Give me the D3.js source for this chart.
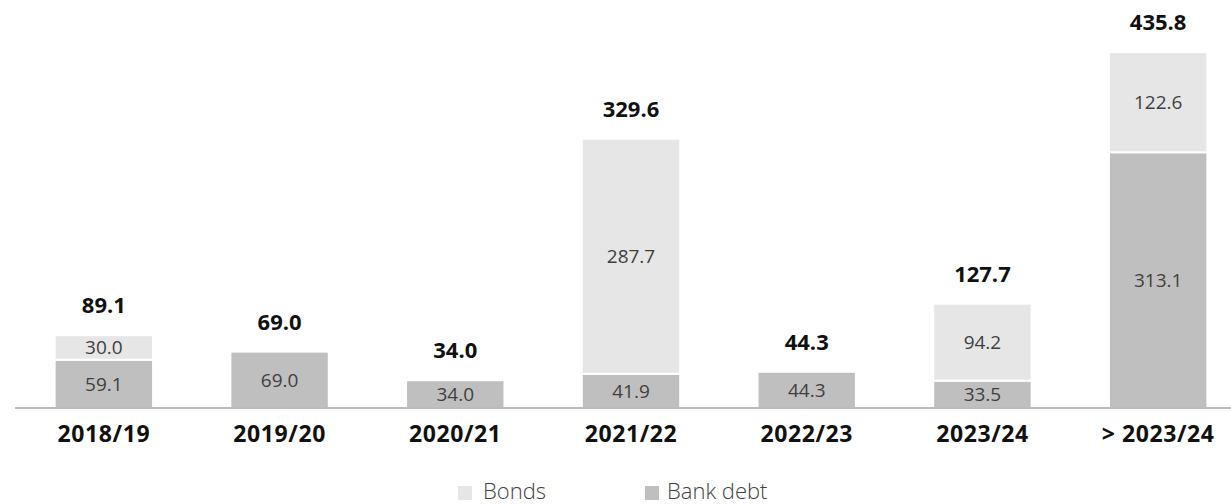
<!DOCTYPE html>
<html>
<head>
<meta charset="utf-8">
<script src="https://cdn.jsdelivr.net/npm/d3@7"></script>
<style>
  body { margin: 0; background: #fff; }
  svg { display: block; font-family: "Open Sans", "Noto Sans", sans-serif; }
</style>
</head>
<body>
<div id="chart"></div>
<script>
// Data
var categories = ["2018/19", "2019/20", "2020/21", "2021/22", "2022/23", "2023/24", "> 2023/24"];
var bankDebt = [59.1, 69.0, 34.0, 41.9, 44.3, 33.5, 313.1];
var bonds = [30.0, 0, 0, 287.7, 0, 94.2, 122.6];
var totals = [89.1, 69.0, 34.0, 329.6, 44.3, 127.7, 435.8];

var svgWidth = 1231;
var svgHeight = 504;
var baseY = 408;

var svg = d3.select("#chart")
  .append("svg")
  .attr("width", svgWidth)
  .attr("height", svgHeight);

var x = d3.scaleBand()
  .domain(categories)
  .range([16, 1246])
  .paddingInner(0.44)
  .paddingOuter(0.22);

var y = d3.scaleLinear()
  .domain([0, 435.8])
  .range([baseY, 52]);

var colors = { bonds: "#e6e6e6", bank: "#bfbfbf" };

var rows = categories.map(function (c, i) {
  return { cat: c, bank: bankDebt[i], bonds: bonds[i], total: totals[i] };
});

var stack = d3.stack().keys(["bank", "bonds"])(rows);

var groups = svg.selectAll("g.series")
  .data(stack)
  .enter()
  .append("g")
  .attr("class", "series")
  .attr("fill", d => colors[d.key]);

groups.selectAll("rect")
  .data(d => d.filter(p => p[1] > p[0]))
  .enter()
  .append("rect")
  .attr("x", d => x(d.data.cat))
  .attr("width", x.bandwidth())
  .attr("y", d => y(d[1]))
  .attr("height", d => y(d[0]) - y(d[1]))
  .attr("stroke", "#fff")
  .attr("stroke-width", 2);

// segment labels
stack.forEach(function (s) {
  svg.append("g").selectAll("text")
    .data(s.filter(p => p[1] > p[0]))
    .enter()
    .append("text")
    .attr("x", d => x(d.data.cat) + x.bandwidth() / 2)
    .attr("y", d => (y(d[0]) + y(d[1])) / 2)
    .attr("dy", "0.36em")
    .attr("text-anchor", "middle")
    .attr("font-size", "19px")
    .attr("fill", "#3f3f3f")
    .text(d => (d[1] - d[0]).toFixed(1));
});

// totals
svg.append("g").selectAll("text")
  .data(rows)
  .enter()
  .append("text")
  .attr("x", d => x(d.cat) + x.bandwidth() / 2)
  .attr("y", d => y(d.total) - 22)
  .attr("text-anchor", "middle")
  .attr("font-size", "22px")
  .attr("font-weight", "bold")
  .attr("fill", "#111")
  .text(d => d.total.toFixed(1));

// axis
var xAxis = svg.append("g")
  .attr("transform", `translate(0, ${baseY})`)
  .call(d3.axisBottom(x).tickSize(0).tickPadding(18));

xAxis.select(".domain").remove();
xAxis.append("line")
  .attr("x1", 15).attr("x2", 1231)
  .attr("stroke", "#a6a6a6")
  .attr("stroke-width", 1.3);

xAxis.selectAll("text")
  .attr("font-family", "'Open Sans', sans-serif")
  .attr("font-size", "23px")
  .attr("font-weight", "bold")
  .attr("letter-spacing", "0.6px")
  .attr("fill", "#111");

// legend
var legendItems = [
  { name: "Bonds", color: colors.bonds, x: 458, tx: 483 },
  { name: "Bank debt", color: colors.bank, x: 645, tx: 667 }
];

var legend = svg.append("g").selectAll("g")
  .data(legendItems)
  .enter()
  .append("g");

legend.append("rect")
  .attr("x", d => d.x)
  .attr("y", 486)
  .attr("width", 14).attr("height", 14)
  .attr("fill", d => d.color);

legend.append("text")
  .attr("x", d => d.tx)
  .attr("y", 499)
  .attr("font-size", "22px")
  .attr("font-weight", 300)
  .attr("fill", "#404040")
  .text(d => d.name);
</script>
</body>
</html>
